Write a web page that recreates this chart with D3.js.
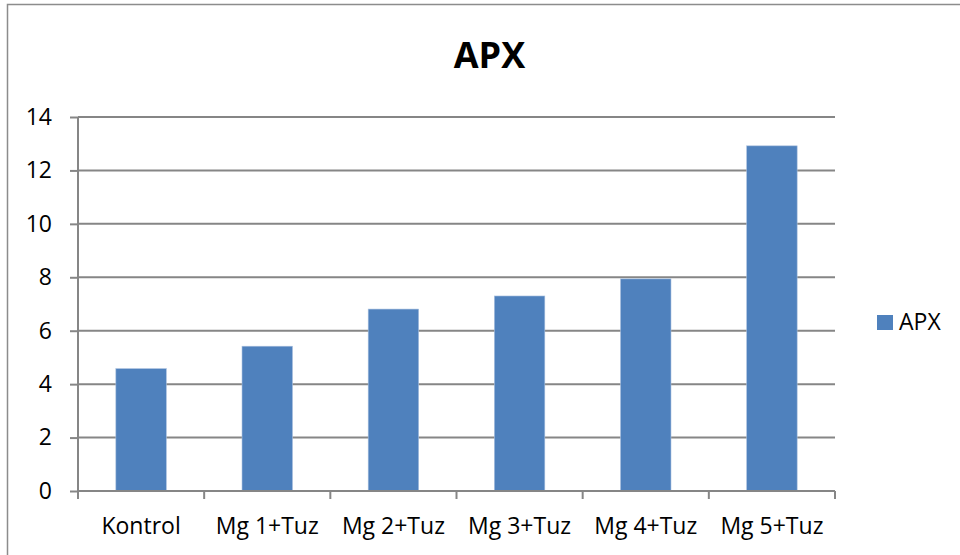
<!DOCTYPE html>
<html>
<head>
<meta charset="utf-8">
<script src="https://cdn.jsdelivr.net/npm/d3@7"></script>
<style>
  html, body { margin: 0; padding: 0; background: #fff; }
  svg { display: block; }
  text { font-family: "Open Sans", Lato, sans-serif; fill: #000; }
</style>
</head>
<body>
<svg id="chart" width="960" height="555"></svg>
<script>
const categories = ["Kontrol", "Mg 1+Tuz", "Mg 2+Tuz", "Mg 3+Tuz", "Mg 4+Tuz", "Mg 5+Tuz"];
const values = [4.58, 5.42, 6.81, 7.30, 7.94, 12.92];
const yTicks = [0, 2, 4, 6, 8, 10, 12, 14];
const seriesName = "APX";
const chartTitle = "APX";

const svg = d3.select("#chart");
const W = 960, H = 555;
const plot = { left: 78, right: 835, top: 117, bottom: 491 };
const barColor = "#4f81bd";
const gridColor = "#868686";
const fontFam = "'Open Sans', Lato, sans-serif";

// outer border
svg.append("rect").attr("x", 7.5).attr("y", 4.5).attr("width", W).attr("height", H)
  .attr("fill", "#fff").attr("stroke", "#8c8c8c").attr("stroke-width", 1.5);

const x = d3.scaleBand().domain(categories).range([plot.left, plot.right]).paddingInner(0.6).paddingOuter(0.3);
const xBand = d3.scaleBand().domain(categories).range([plot.left, plot.right]);
const y = d3.scaleLinear().domain([0, 14]).range([plot.bottom, plot.top]);

// gridlines
svg.append("g").selectAll("line").data(yTicks.filter(d => d > 0)).join("line")
  .attr("x1", plot.left).attr("x2", plot.right)
  .attr("y1", d => y(d)).attr("y2", d => y(d))
  .attr("stroke", gridColor).attr("stroke-width", 2);

// bars
svg.append("g").selectAll("rect").data(values).join("rect")
  .attr("x", (d, i) => x(categories[i]))
  .attr("width", x.bandwidth())
  .attr("y", d => y(d))
  .attr("height", d => y(0) - y(d))
  .attr("fill", barColor)
  .attr("stroke", "#a7bfde").attr("stroke-width", 0.6);

// y axis
const yAxis = d3.axisLeft(y).tickValues(yTicks).tickSize(8).tickPadding(18).tickFormat(d3.format("d"));
const gy = svg.append("g").attr("transform", `translate(${plot.left},0)`).call(yAxis);
gy.select(".domain").attr("stroke", gridColor).attr("stroke-width", 2).attr("d", `M0,${plot.top}V${plot.bottom}`);
gy.selectAll(".tick line").attr("stroke", gridColor).attr("stroke-width", 2);
gy.selectAll(".tick text").attr("font-size", 23).attr("font-family", fontFam).attr("fill", "#000");

// x axis
const xAxis = d3.axisBottom(xBand).tickSize(0).tickPadding(0);
const gx = svg.append("g").attr("transform", `translate(0,${plot.bottom})`).call(xAxis);
gx.select(".domain").attr("stroke", gridColor).attr("stroke-width", 2).attr("d", `M${plot.left},0H${plot.right}`);
gx.selectAll(".tick text").remove();
const bounds = categories.map(c => xBand(c)).concat([plot.right]);
gx.append("g").selectAll("line").data(bounds).join("line")
  .attr("x1", d => d).attr("x2", d => d).attr("y1", 0).attr("y2", 8)
  .attr("stroke", gridColor).attr("stroke-width", 2);
gx.append("g").selectAll("text").data(categories).join("text")
  .attr("x", d => xBand(d) + xBand.bandwidth() / 2)
  .attr("y", 43)
  .attr("text-anchor", "middle")
  .attr("font-size", 23)
  .attr("font-family", fontFam)
  .text(d => d);

// title
svg.append("text").attr("x", 489.5).attr("y", 68).attr("text-anchor", "middle")
  .attr("font-size", 36).attr("font-weight", "bold").attr("font-family", fontFam).text(chartTitle);

// legend
const lg = svg.append("g").attr("transform", "translate(877,315)");
lg.append("rect").attr("width", 16).attr("height", 15).attr("fill", barColor);
lg.append("text").attr("x", 22).attr("y", 15).attr("font-size", 23).attr("font-family", fontFam).text(seriesName);
</script>
</body>
</html>
